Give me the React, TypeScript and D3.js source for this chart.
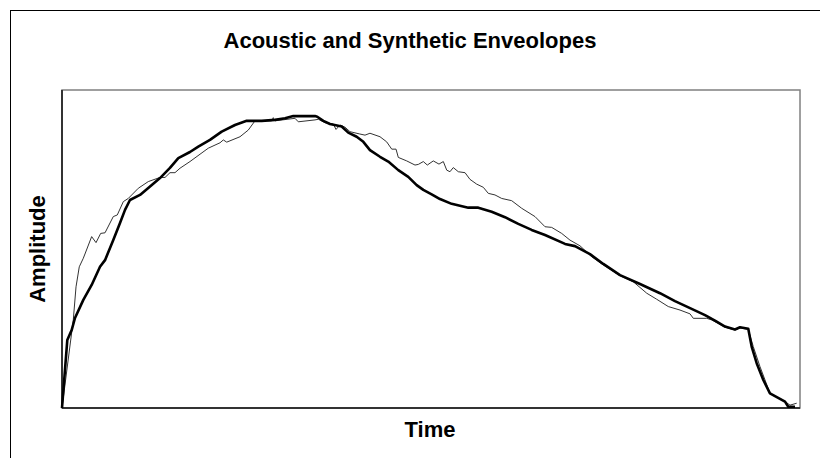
import React from 'react';
import * as d3 from 'd3';

// time in % of note length, amplitude in % of full scale
const synthTime = [0, 0.72, 1.31, 1.76, 2.89, 4.02, 5.15, 5.83, 6.95, 7.86, 8.54, 9.21, 10.57, 11.69, 13.28, 14.63, 15.76, 17.34, 18.47, 20.05, 21.64, 23.44, 25.03, 27.06, 28.86, 30.22, 31.34, 34.28, 34.59, 35.41, 36.31, 37.9, 38.79, 39.93, 40.83, 41.73, 43.09, 44.21, 45.57, 46.92, 48.06, 48.96, 50.09, 51.22, 52.8, 55.05, 56.41, 58.22, 60.03, 61.83, 63.64, 65.45, 68.16, 69.51, 71.54, 73.35, 75.61, 78.32, 81.03, 83.06, 85.1, 87.13, 88.48, 89.84, 91.19, 91.87, 92.99, 93.45, 94.13, 95.03, 95.93, 97.97, 98.41, 99.32];
const synthAmp = [0, 21.4, 24.5, 28.3, 34.0, 38.7, 44.4, 46.5, 52.8, 58.2, 62.3, 65.4, 67.0, 69.2, 72.3, 75.5, 78.6, 80.5, 82.2, 84.3, 86.9, 89.0, 90.3, 90.3, 90.6, 91.1, 91.8, 91.8, 91.6, 90.3, 89.3, 88.5, 86.6, 85.3, 83.7, 81.1, 79.0, 77.5, 74.8, 72.7, 70.1, 68.6, 67.2, 65.7, 64.2, 63.0, 63.0, 61.7, 60.0, 57.9, 56.0, 54.4, 51.6, 50.9, 48.4, 45.3, 41.8, 39.0, 36.1, 33.6, 31.4, 29.2, 27.5, 25.6, 24.7, 25.4, 24.9, 19.3, 14.1, 8.8, 4.6, 2.0, 0.4, 0.4];

const acousticTime = [0, 1.53, 1.9, 2.34, 2.89, 4.02, 4.61, 5.24, 5.83, 6.95, 7.49, 8.31, 8.98, 10.34, 11.69, 13.28, 13.96, 14.63, 15.31, 15.99, 17.34, 19.82, 21.41, 21.86, 22.32, 24.12, 25.24, 26.15, 28.41, 28.63, 28.86, 31.57, 32.02, 34.28, 34.73, 35.64, 36.76, 37.13, 37.67, 38.35, 39.02, 40.28, 41.06, 41.73, 43.09, 43.99, 44.68, 45.26, 45.57, 46.71, 47.83, 48.28, 48.96, 49.5, 50.31, 51.08, 51.67, 52.13, 52.57, 53.02, 53.7, 54.61, 55.28, 56.19, 57.09, 57.76, 58.67, 59.58, 60.93, 62.29, 64.09, 65.45, 66.35, 67.71, 68.83, 70.19, 71.77, 73.13, 75.61, 77.41, 79.23, 80.58, 82.15, 83.74, 85.1, 85.54, 87.36, 88.03, 89.84, 91.19, 91.87, 92.99, 93.67, 94.58, 95.26, 95.93, 97.97, 98.65, 99.55];
const acousticAmp = [0, 27.7, 38.1, 44.4, 47.1, 53.9, 52.0, 54.9, 55.1, 60.2, 60.7, 64.9, 65.9, 69.1, 71.2, 72.5, 72.5, 74.0, 74.0, 75.4, 77.5, 81.7, 83.4, 84.3, 83.6, 85.3, 87.4, 90.3, 90.3, 91.3, 90.3, 91.1, 90.0, 90.6, 90.8, 89.7, 89.3, 87.6, 89.0, 88.3, 86.9, 86.2, 85.8, 86.4, 85.3, 83.7, 81.4, 81.4, 78.8, 77.7, 76.4, 76.6, 77.5, 76.4, 77.7, 76.7, 77.5, 74.8, 74.3, 75.6, 74.3, 74.0, 71.9, 70.4, 69.4, 67.5, 67.0, 65.9, 65.2, 62.8, 60.2, 57.0, 56.8, 54.9, 52.8, 51.0, 47.6, 45.3, 41.6, 39.7, 36.1, 34.2, 31.9, 30.8, 29.6, 28.2, 28.2, 27.7, 25.4, 24.5, 25.2, 24.7, 19.3, 13.0, 8.8, 4.6, 2.0, 0.9, 1.5];

const W = 820;
const H = 458;
const plot = { left: 62, right: 800, top: 90, bottom: 408 };

const App = () => {
    const x = d3.scaleLinear().domain([0, 100]).range([plot.left, plot.right]);
    const y = d3.scaleLinear().domain([0, 100]).range([plot.bottom, plot.top]);

    const line = d3.line<[number, number]>()
        .x(d => x(d[0]))
        .y(d => y(d[1]));

    const synth = synthTime.map((t, i) => [t, synthAmp[i]] as [number, number]);
    const acoustic = acousticTime.map((t, i) => [t, acousticAmp[i]] as [number, number]);

    const font = 'Liberation Sans, Arial, sans-serif';

    return (
        <svg width={W} height={H} style={{ position: 'absolute', left: 0, top: 0, background: '#fff' }}>
            {/* chart area frame */}
            <rect x={10.5} y={10.5} width={W + 10} height={H + 10} fill="#fff" stroke="#000" strokeWidth={1} />

            <text x={410} y={48} textAnchor="middle" fontFamily={font} fontWeight="bold" fontSize={22}>
                Acoustic and Synthetic Enveolopes
            </text>

            {/* plot area */}
            <rect x={plot.left} y={plot.top} width={plot.right - plot.left} height={plot.bottom - plot.top}
                fill="#fff" stroke="#808080" strokeWidth={1.5} />
            <line x1={plot.left} x2={plot.right} y1={plot.bottom} y2={plot.bottom} stroke="#333" strokeWidth={2} />
            <line x1={plot.left} x2={plot.left} y1={plot.top} y2={plot.bottom} stroke="#333" strokeWidth={2} />

            <path d={line(acoustic) || ''} fill="none" stroke="#333" strokeWidth={1} strokeLinejoin="round" />
            <path d={line(synth) || ''} fill="none" stroke="#000" strokeWidth={2.6} strokeLinejoin="round" />

            <text x={430} y={437} textAnchor="middle" fontFamily={font} fontWeight="bold" fontSize={22}>
                Time
            </text>
            <text transform={`translate(45,${(plot.top + plot.bottom) / 2}) rotate(-90)`} textAnchor="middle"
                fontFamily={font} fontWeight="bold" fontSize={22}>
                Amplitude
            </text>
        </svg>
    );
};

export default App;
